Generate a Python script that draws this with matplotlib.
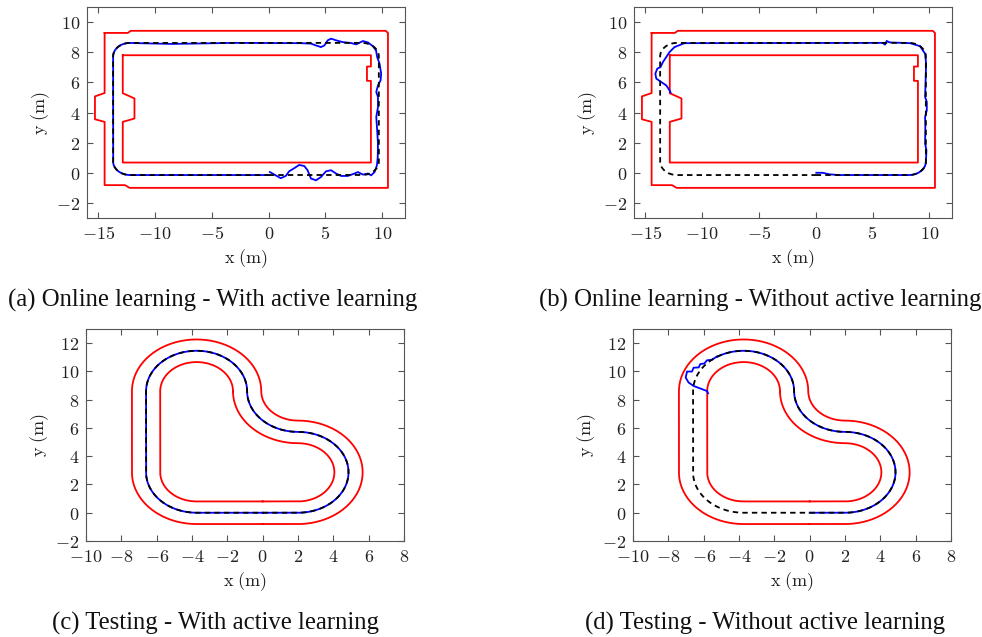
import numpy as np
import matplotlib.pyplot as plt
from matplotlib.ticker import FuncFormatter, MultipleLocator

plt.rcParams['mathtext.fontset'] = 'cm'

# ---------------- rectangular track (online learning) ----------------
rect_outer_x = [-14.45, -12.4, -12.15, 10.3, 10.5, 10.5, -12.25, -12.65, -14.45, -14.45, -15.3, -15.3, -14.45, -14.45]
rect_outer_y = [9.28, 9.28, 9.42, 9.42, 9.28, -1.0, -1.0, -0.82, -0.82, 3.38, 3.55, 5.07, 5.29, 9.28]
rect_inner_x = [-12.85, 9.0, 9.0, 8.65, 8.65, 9.0, 9.0, -12.85, -12.85, -11.82, -11.82, -12.85, -12.85]
rect_inner_y = [7.8, 7.8, 7.05, 7.05, 6.1, 6.1, 0.68, 0.68, 3.38, 3.6, 4.93, 5.28, 7.8]

# reference line: rounded rectangle
rect_left, rect_right, rect_bottom, rect_top = -13.7, 9.7, -0.15, 8.62
rect_rx, rect_ry = 1.5, 0.9

# (a) driven path, pieces that leave the reference
a_bottom_x = [0.1, 0.62, 1.06, 1.5, 1.8, 2.24, 2.68, 3.13, 3.42, 3.72, 4.16, 4.6, 5.05, 5.49, 5.93,
              6.37, 6.96, 7.55, 7.85, 8.29, 8.73, 9.02, 9.32, 9.53, 9.6]
a_bottom_y = [0.05, -0.17, -0.36, -0.21, 0.1, 0.3, 0.52, 0.45, 0.17, -0.38, -0.5, -0.28, 0.1, 0.17, -0.05,
              -0.21, -0.21, -0.05, 0.05, -0.12, -0.05, -0.17, 0.05, 0.5, 1.05]
a_right_x = [9.62, 9.55, 9.47, 9.62, 9.62, 9.47, 9.62, 9.85, 9.9, 9.76, 9.55, 9.45, 9.17, 8.73, 8.29]
a_right_y = [1.94, 2.82, 3.7, 4.36, 5.03, 5.36, 5.8, 6.13, 6.58, 7.24, 7.68, 8.12, 8.4, 8.65, 8.74]
a_top_x = [7.7, 7.25, 6.52, 5.93, 5.49, 5.2, 4.9, 4.6, 4.16, 3.72, 2.83, -3.0, -8.5, -11.5]
a_top_y = [8.52, 8.61, 8.67, 8.79, 8.9, 8.79, 8.45, 8.34, 8.45, 8.57, 8.6, 8.62, 8.55, 8.6]

# (b) driven path
b_start_x = [0.05, 0.6, 1.2, 2.0]
b_start_y = [0.0, 0.0, -0.1, -0.15]
b_rest_x = [9.75, 9.63, 9.65, 9.63, 9.78, 9.78, 9.63, 9.68, 9.72, 9.63, 9.19, 8.31, 6.5, 6.25, 6.1, 5.9,
            -11.56, -12.43, -12.87, -13.16, -13.45, -13.66, -13.95, -14.12, -14.04, -13.6, -13.16, -12.87, -12.78]
b_rest_y = [1.49, 1.94, 3.0, 3.7, 4.14, 4.7, 5.03, 6.2, 7.24, 7.9, 8.4, 8.6, 8.65, 8.75, 8.5, 8.62,
            8.6, 8.34, 8.01, 7.68, 7.35, 7.02, 6.91, 6.58, 6.25, 6.02, 5.8, 5.47, 5.32]

# ---------------- heart-shaped track (testing) ----------------
heart_half_width = 0.8
# centre line pieces: (cx, cy, r, start angle, end angle) in degrees
heart_arcs = [
    (2.0, 2.86, 2.86, -90, 90),
    (2.0, 8.6, 2.88, -90, -180),
    (-3.74, 8.6, 2.86, 0, 180),
    (-3.74, 2.86, 2.86, 180, 270),
]
d_leave_angle = 122
d_dev_x = [-5.25, -5.53, -5.81, -5.96, -6.19, -6.28, -6.57, -6.66, -6.94, -7.02, -6.85, -6.57, -5.81, -5.75]
d_dev_y = [11.06, 10.82, 10.79, 10.56, 10.52, 10.28, 10.26, 9.99, 9.99, 9.56, 9.21, 8.97, 8.61, 8.45]


def arc(cx, cy, rx, ry, a0, a1, n=40):
    t = np.radians(np.linspace(a0, a1, n))
    return np.column_stack([cx + rx * np.cos(t), cy + ry * np.sin(t)])


def xy(xs, ys):
    return np.column_stack([xs, ys])


# rectangle reference corners
L, R, B, T = rect_left, rect_right, rect_bottom, rect_top
arc_br = arc(R - rect_rx, B + rect_ry, rect_rx, rect_ry, -90, 0)
arc_tr = arc(R - rect_rx, T - rect_ry, rect_rx, rect_ry, 0, 90)
arc_tl = arc(L + rect_rx, T - rect_ry, rect_rx, rect_ry, 90, 180)
arc_bl = arc(L + rect_rx, B + rect_ry, rect_rx, rect_ry, 180, 270)
start = np.array([[0.0, B]])
rect_ref = np.vstack([start, arc_br, arc_tr, arc_tl, arc_bl, start])

path_a = np.vstack([xy(a_bottom_x, a_bottom_y), xy(a_right_x, a_right_y), xy(a_top_x, a_top_y),
                    arc_tl, arc_bl, start])
path_b = np.vstack([xy(b_start_x, b_start_y), arc_br, xy(b_rest_x, b_rest_y)])

# heart centre line and borders
heart_pieces = [np.array([[0.0, 0.0]])] + [arc(cx, cy, r, r, a0, a1, 80) for cx, cy, r, a0, a1 in heart_arcs] \
    + [np.array([[0.0, 0.0]])]
heart_ref = np.vstack(heart_pieces)
tang = np.gradient(heart_ref, axis=0)
tang /= np.linalg.norm(tang, axis=1, keepdims=True) + 1e-12
normal = np.column_stack([-tang[:, 1], tang[:, 0]])
heart_inner = heart_ref + heart_half_width * normal
heart_outer = heart_ref - heart_half_width * normal

cx, cy, r, a0, _ = heart_arcs[2]
path_d = np.vstack([heart_pieces[0], heart_pieces[1], heart_pieces[2],
                    arc(cx, cy, r, r, a0, d_leave_angle, 60), xy(d_dev_x, d_dev_y)])

# ---------------- drawing ----------------
fig = plt.figure(figsize=(9.82, 6.37), dpi=100)
W, H = 982, 637
boxes = [(87, 7, 318, 211), (634, 7, 318, 211), (86, 329, 318, 212), (633, 329, 318, 212)]
axes = [fig.add_axes([x / W, 1 - (y + h) / H, w / W, h / H]) for x, y, w, h in boxes]

red = dict(color='#ff0000', lw=1.3)
blue = dict(color='#0000ff', lw=1.3)
dash = dict(color='black', lw=1.3, linestyle=(0, (3, 2.3)))

for ax, path in zip(axes[:2], [path_a, path_b]):
    ax.plot(rect_outer_x, rect_outer_y, **red)
    ax.plot(rect_inner_x, rect_inner_y, **red)
    ax.plot(path[:, 0], path[:, 1], **blue)
    ax.plot(rect_ref[:, 0], rect_ref[:, 1], **dash)
    ax.set_xlim(-16, 12)
    ax.set_ylim(-3, 11)
    ax.xaxis.set_major_locator(MultipleLocator(5))
    ax.yaxis.set_major_locator(MultipleLocator(2))

for ax, path in zip(axes[2:], [heart_ref, path_d]):
    ax.plot(heart_outer[:, 0], heart_outer[:, 1], **red)
    ax.plot(heart_inner[:, 0], heart_inner[:, 1], **red)
    ax.plot(path[:, 0], path[:, 1], **blue)
    ax.plot(heart_ref[:, 0], heart_ref[:, 1], **dash)
    ax.set_xlim(-10, 8)
    ax.set_ylim(-2, 13)
    ax.xaxis.set_major_locator(MultipleLocator(2))
    ax.yaxis.set_major_locator(MultipleLocator(2))

fmt = FuncFormatter(lambda v, p: r'$%d$' % round(v))
for ax in axes:
    for s in ax.spines.values():
        s.set_color('#555555')
        s.set_linewidth(0.8)
    ax.tick_params(direction='in', top=True, right=True, length=4, width=0.8,
                   color='#555555', labelcolor='#222222', labelsize=13, pad=5)
    ax.xaxis.set_major_formatter(fmt)
    ax.yaxis.set_major_formatter(fmt)
    ax.set_xlabel(r'$\mathrm{x\ (m)}$', fontsize=13, color='#222222')
    ax.set_ylabel(r'$\mathrm{y\ (m)}$', fontsize=13, color='#222222')
    ax.xaxis.set_label_coords(0.5, -0.14)
    ax.yaxis.set_label_coords(-0.11, 0.5)

captions = ['(a) Online learning - With active learning',
            '(b) Online learning - Without active learning',
            '(c) Testing - With active learning',
            '(d) Testing - Without active learning']
cap_pos = [(213, 300), (760, 300), (216, 623), (765, 623)]
for txt, (px, py) in zip(captions, cap_pos):
    fig.text(px / W, 1 - py / H, txt, ha='center', va='center',
             family='Liberation Serif', fontsize=17.8, color='#111111')

fig.savefig('out.png', dpi=100)
